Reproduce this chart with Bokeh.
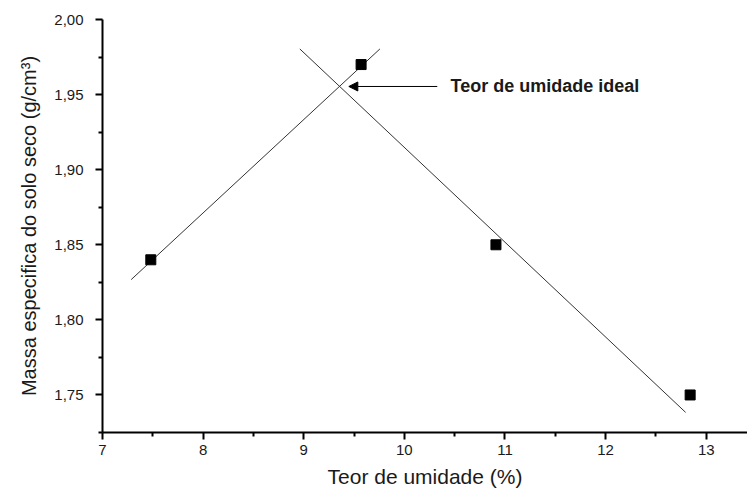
from bokeh.plotting import figure
from bokeh.models import FixedTicker, Label, Arrow, NormalHead
from bokeh.embed import file_html
from bokeh.resources import INLINE

# ---- data ----
umidade = [7.48, 9.57, 10.91, 12.84]          # Teor de umidade (%)
massa = [1.84, 1.97, 1.85, 1.75]              # Massa especifica (g/cm3)

line_up_x = [7.285, 9.757]
line_up_y = [1.8268, 1.9804]
line_down_x = [8.961, 12.795]
line_down_y = [1.9804, 1.7384]

arrow_x = [10.327, 9.448]   # tail, tip
arrow_y = [1.9554, 1.9554]
annot_text = "Teor de umidade ideal"
annot_x = 10.459

x_ticks = [7, 8, 9, 10, 11, 12, 13]
x_minor = [7.5, 8.5, 9.5, 10.5, 11.5, 12.5]
y_ticks = [1.75, 1.80, 1.85, 1.90, 1.95, 2.00]
y_minor = [1.725, 1.775, 1.825, 1.875, 1.925, 1.975]
y_tick_labels = ["1,75", "1,80", "1,85", "1,90", "1,95", "2,00"]

x_title = "Teor de umidade (%)"
y_title = "Massa especifica do solo seco (g/cm\u00b3)"

FONT = "Liberation Sans"
TXT = "#1a1a1a"

p = figure(width=747, height=495, output_backend="svg", toolbar_location=None,
           x_range=(7.0, 13.41), y_range=(1.725, 2.0),
           min_border_left=102, min_border_right=0, min_border_top=19,
           min_border_bottom=63)
p.outline_line_color = None
p.xgrid.visible = False
p.ygrid.visible = False
p.background_fill_color = "white"
p.border_fill_color = "white"

# lines
p.line(line_up_x, line_up_y, line_color="#333333", line_width=1)
p.line(line_down_x, line_down_y, line_color="#333333", line_width=1)

# points
p.scatter(umidade, massa, marker="square", size=10, fill_color="black", line_color="black")

# arrow + annotation
p.add_layout(Arrow(end=NormalHead(size=9, fill_color="black", line_color="black", line_width=1),
                   x_start=arrow_x[0], y_start=arrow_y[0], x_end=arrow_x[1], y_end=arrow_y[1],
                   line_color="black", line_width=1))
p.add_layout(Label(x=annot_x, y=arrow_y[0], text=annot_text, text_font=FONT,
                   text_font_size="18px", text_font_style="bold", text_color=TXT,
                   text_baseline="middle", text_align="left"))

# axes
xa = p.xaxis[0]
xa.ticker = FixedTicker(ticks=x_ticks, minor_ticks=x_minor)
xa.axis_label = x_title
xa.axis_label_text_font = FONT
xa.axis_label_text_font_size = "21px"
xa.axis_label_text_font_style = "normal"
xa.axis_label_text_color = TXT
xa.axis_label_standoff = 7
xa.major_label_text_font = FONT
xa.major_label_text_font_size = "15px"
xa.major_label_text_color = TXT
xa.major_label_standoff = 5

ya = p.yaxis[0]
ya.ticker = FixedTicker(ticks=y_ticks, minor_ticks=y_minor)
ya.major_label_overrides = {t: l for t, l in zip(y_ticks, y_tick_labels)}
ya.major_label_text_font = FONT
ya.major_label_text_font_size = "15px"
ya.major_label_text_color = TXT
ya.major_label_standoff = 12
ya.axis_label = y_title
ya.axis_label_text_font = FONT
ya.axis_label_text_font_size = "20px"
ya.axis_label_text_font_style = "normal"
ya.axis_label_text_color = TXT
ya.axis_label_standoff = 11

for ax in (xa, ya):
    ax.axis_line_width = 2
    ax.axis_line_color = "black"
    ax.major_tick_line_width = 2
    ax.major_tick_line_color = "black"
    ax.major_tick_out = 7
    ax.major_tick_in = 0
    ax.minor_tick_line_width = 2
    ax.minor_tick_line_color = "black"
    ax.minor_tick_out = 4
    ax.minor_tick_in = 0

open("out.html", "w").write(file_html(p, INLINE))
